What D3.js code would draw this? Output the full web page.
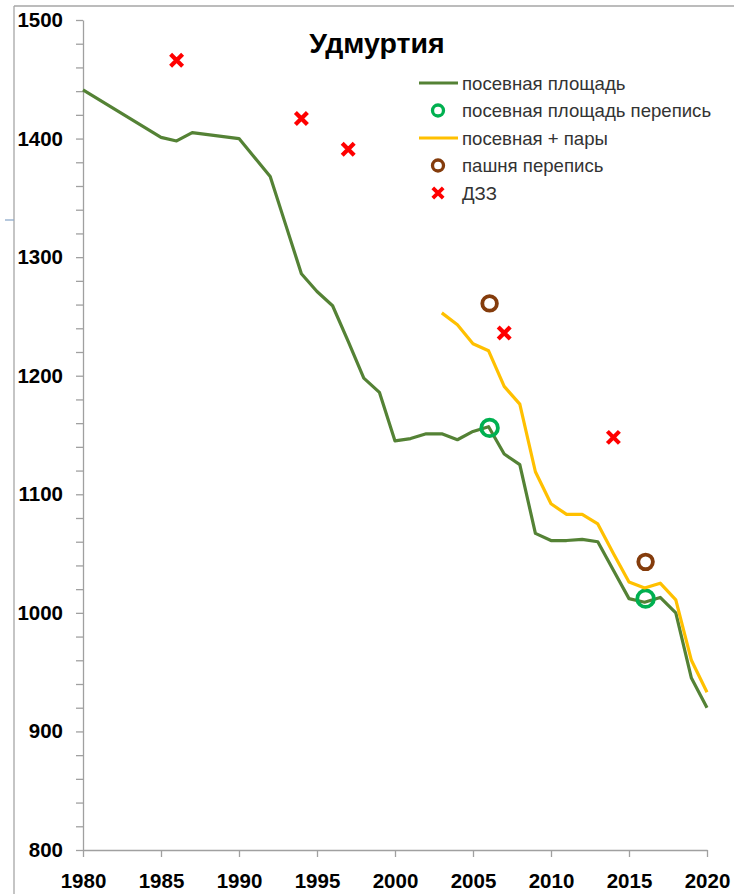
<!DOCTYPE html>
<html>
<head>
<meta charset="utf-8">
<script src="https://cdn.jsdelivr.net/npm/d3@7"></script>
<style>
  body { margin: 0; background: #fff; }
  svg { display: block; }
  .axis path, .axis line { stroke: #a0a0a0; stroke-width: 1.3; }
  .axis text { font-family: "Liberation Sans", Arial, sans-serif; font-weight: bold; font-size: 20.5px; fill: #000; }
  .legend text { font-family: "Liberation Sans", Arial, sans-serif; font-size: 18.6px; fill: #333; }
</style>
</head>
<body>
<div id="chart"></div>
<script>
var width = 734,
    height = 894;

// посевная площадь (годы и значения, тыс. га)
var sownYears = [1980, 1985, 1986, 1987, 1990, 1992, 1993, 1994, 1995, 1996, 1997, 1998, 1999, 2000,
                 2001, 2002, 2003, 2004, 2005, 2006, 2007, 2008, 2009, 2010, 2011, 2012, 2013,
                 2014, 2015, 2016, 2017, 2018, 2019, 2020];
var sownValues = [1441, 1401, 1398, 1405, 1400, 1368, 1327, 1286, 1271, 1259, 1229, 1198, 1186, 1145,
                  1147, 1151, 1151, 1146, 1153, 1157, 1134, 1125, 1067, 1061, 1061, 1062, 1060,
                  1036, 1012, 1009, 1013, 1000, 945, 920];

// посевная + пары
var fallowYears = [2003, 2004, 2005, 2006, 2007, 2008, 2009, 2010, 2011, 2012, 2013, 2014, 2015, 2016, 2017, 2018, 2019, 2020];
var fallowValues = [1253, 1243, 1227, 1221, 1191, 1176, 1119, 1092, 1083, 1083, 1075, 1050, 1026, 1021, 1025, 1011, 960, 933];

// посевная площадь перепись
var censusSownYears = [2006, 2016];
var censusSownValues = [1156, 1012];

// пашня перепись
var censusArableYears = [2006, 2016];
var censusArableValues = [1261, 1043];

// ДЗЗ
var rsYears = [1986, 1994, 1997, 2007, 2014];
var rsValues = [1466, 1417, 1391, 1236, 1148];

var xTicks = d3.range(1980, 2021, 5);
var yTicks = d3.range(800, 1501, 20);

var legendLabels = ['посевная площадь', 'посевная площадь перепись', 'посевная + пары', 'пашня перепись', 'ДЗЗ'];

var cGreen = '#548235', cGreenDot = '#00b050', cYellow = '#ffc000', cBrown = '#843c0c', cRed = '#ff0000';

var svg = d3.select('#chart').append('svg')
    .attr('width', width)
    .attr('height', height);

// рамка области диаграммы (обрезанная)
svg.append('line').attr('x1', 14).attr('x2', width).attr('y1', 6).attr('y2', 6)
    .attr('stroke', '#a6a6a6').attr('stroke-width', 1.3);
svg.append('line').attr('x1', 14).attr('x2', 14).attr('y1', 6).attr('y2', height)
    .attr('stroke', '#a6a6a6').attr('stroke-width', 1.3);
svg.append('line').attr('x1', 5).attr('x2', 14).attr('y1', 220).attr('y2', 220)
    .attr('stroke', '#8eaacb').attr('stroke-width', 1.3);

var x = d3.scaleLinear().domain([1980, 2020]).range([83, 707]);
var y = d3.scaleLinear().domain([800, 1500]).range([850, 20]);

var yAxis = d3.axisLeft(y).tickValues(yTicks).tickSize(7).tickSizeOuter(0).tickPadding(13)
    .tickFormat(function (d) { return d % 100 === 0 ? d : ''; });
var xAxis = d3.axisBottom(x).tickValues(xTicks).tickSize(7).tickSizeOuter(0).tickPadding(16)
    .tickFormat(function (d) { return d; });

svg.append('g').attr('class', 'axis').attr('transform', 'translate(' + x.range()[0] + ',0)').call(yAxis);
svg.append('g').attr('class', 'axis').attr('transform', 'translate(0,' + y.range()[0] + ')').call(xAxis);

// заголовок
svg.append('text')
    .attr('x', 377).attr('y', 53)
    .attr('text-anchor', 'middle')
    .style('font-family', '"Liberation Sans", Arial, sans-serif')
    .style('font-weight', 'bold')
    .style('font-size', '28.5px')
    .text('Удмуртия');

var line = d3.line()
    .x(function (d) { return x(d[0]); })
    .y(function (d) { return y(d[1]); });

function drawX(g, cx, cy, s, w) {
    g.append('path')
        .attr('d', 'M' + (cx - s) + ',' + (cy - s) + 'L' + (cx + s) + ',' + (cy + s) +
                   'M' + (cx - s) + ',' + (cy + s) + 'L' + (cx + s) + ',' + (cy - s))
        .attr('stroke', cRed).attr('stroke-width', w).attr('fill', 'none');
}

var plot = svg.append('g');

plot.append('path')
    .datum(d3.zip(sownYears, sownValues))
    .attr('d', line)
    .attr('fill', 'none').attr('stroke', cGreen).attr('stroke-width', 3.2)
    .attr('stroke-linejoin', 'round');

plot.selectAll('circle.cs')
    .data(d3.zip(censusSownYears, censusSownValues))
    .join('circle').attr('class', 'cs')
    .attr('cx', function (d) { return x(d[0]) + 1; })
    .attr('cy', function (d) { return y(d[1]); })
    .attr('r', 8.3)
    .attr('fill', 'none').attr('stroke', cGreenDot).attr('stroke-width', 3.8);

plot.append('path')
    .datum(d3.zip(fallowYears, fallowValues))
    .attr('d', line)
    .attr('fill', 'none').attr('stroke', cYellow).attr('stroke-width', 3.2)
    .attr('stroke-linejoin', 'round');

plot.selectAll('circle.ca')
    .data(d3.zip(censusArableYears, censusArableValues))
    .join('circle').attr('class', 'ca')
    .attr('cx', function (d) { return x(d[0]) + 1; })
    .attr('cy', function (d) { return y(d[1]); })
    .attr('r', 7.3)
    .attr('fill', 'none').attr('stroke', cBrown).attr('stroke-width', 3.8);

d3.zip(rsYears, rsValues).forEach(function (d) {
    drawX(plot, x(d[0]), y(d[1]), 6, 4.2);
});

// легенда
var legend = svg.append('g').attr('class', 'legend');
var ly0 = 83, lstep = 27.5;
legendLabels.forEach(function (label, i) {
    var cy = ly0 + i * lstep;
    if (i === 0 || i === 2) {
        legend.append('line').attr('x1', 419).attr('x2', 458).attr('y1', cy).attr('y2', cy)
            .attr('stroke', i === 0 ? cGreen : cYellow).attr('stroke-width', 3.2);
    } else if (i === 1 || i === 3) {
        legend.append('circle').attr('cx', 438).attr('cy', cy).attr('r', 5.5)
            .attr('fill', 'none').attr('stroke', i === 1 ? cGreenDot : cBrown).attr('stroke-width', 3.3);
    } else {
        drawX(legend, 438, cy, 5.2, 3.8);
    }
    legend.append('text').attr('x', 462).attr('y', cy).attr('dy', '0.35em').text(label);
});
</script>
</body>
</html>
